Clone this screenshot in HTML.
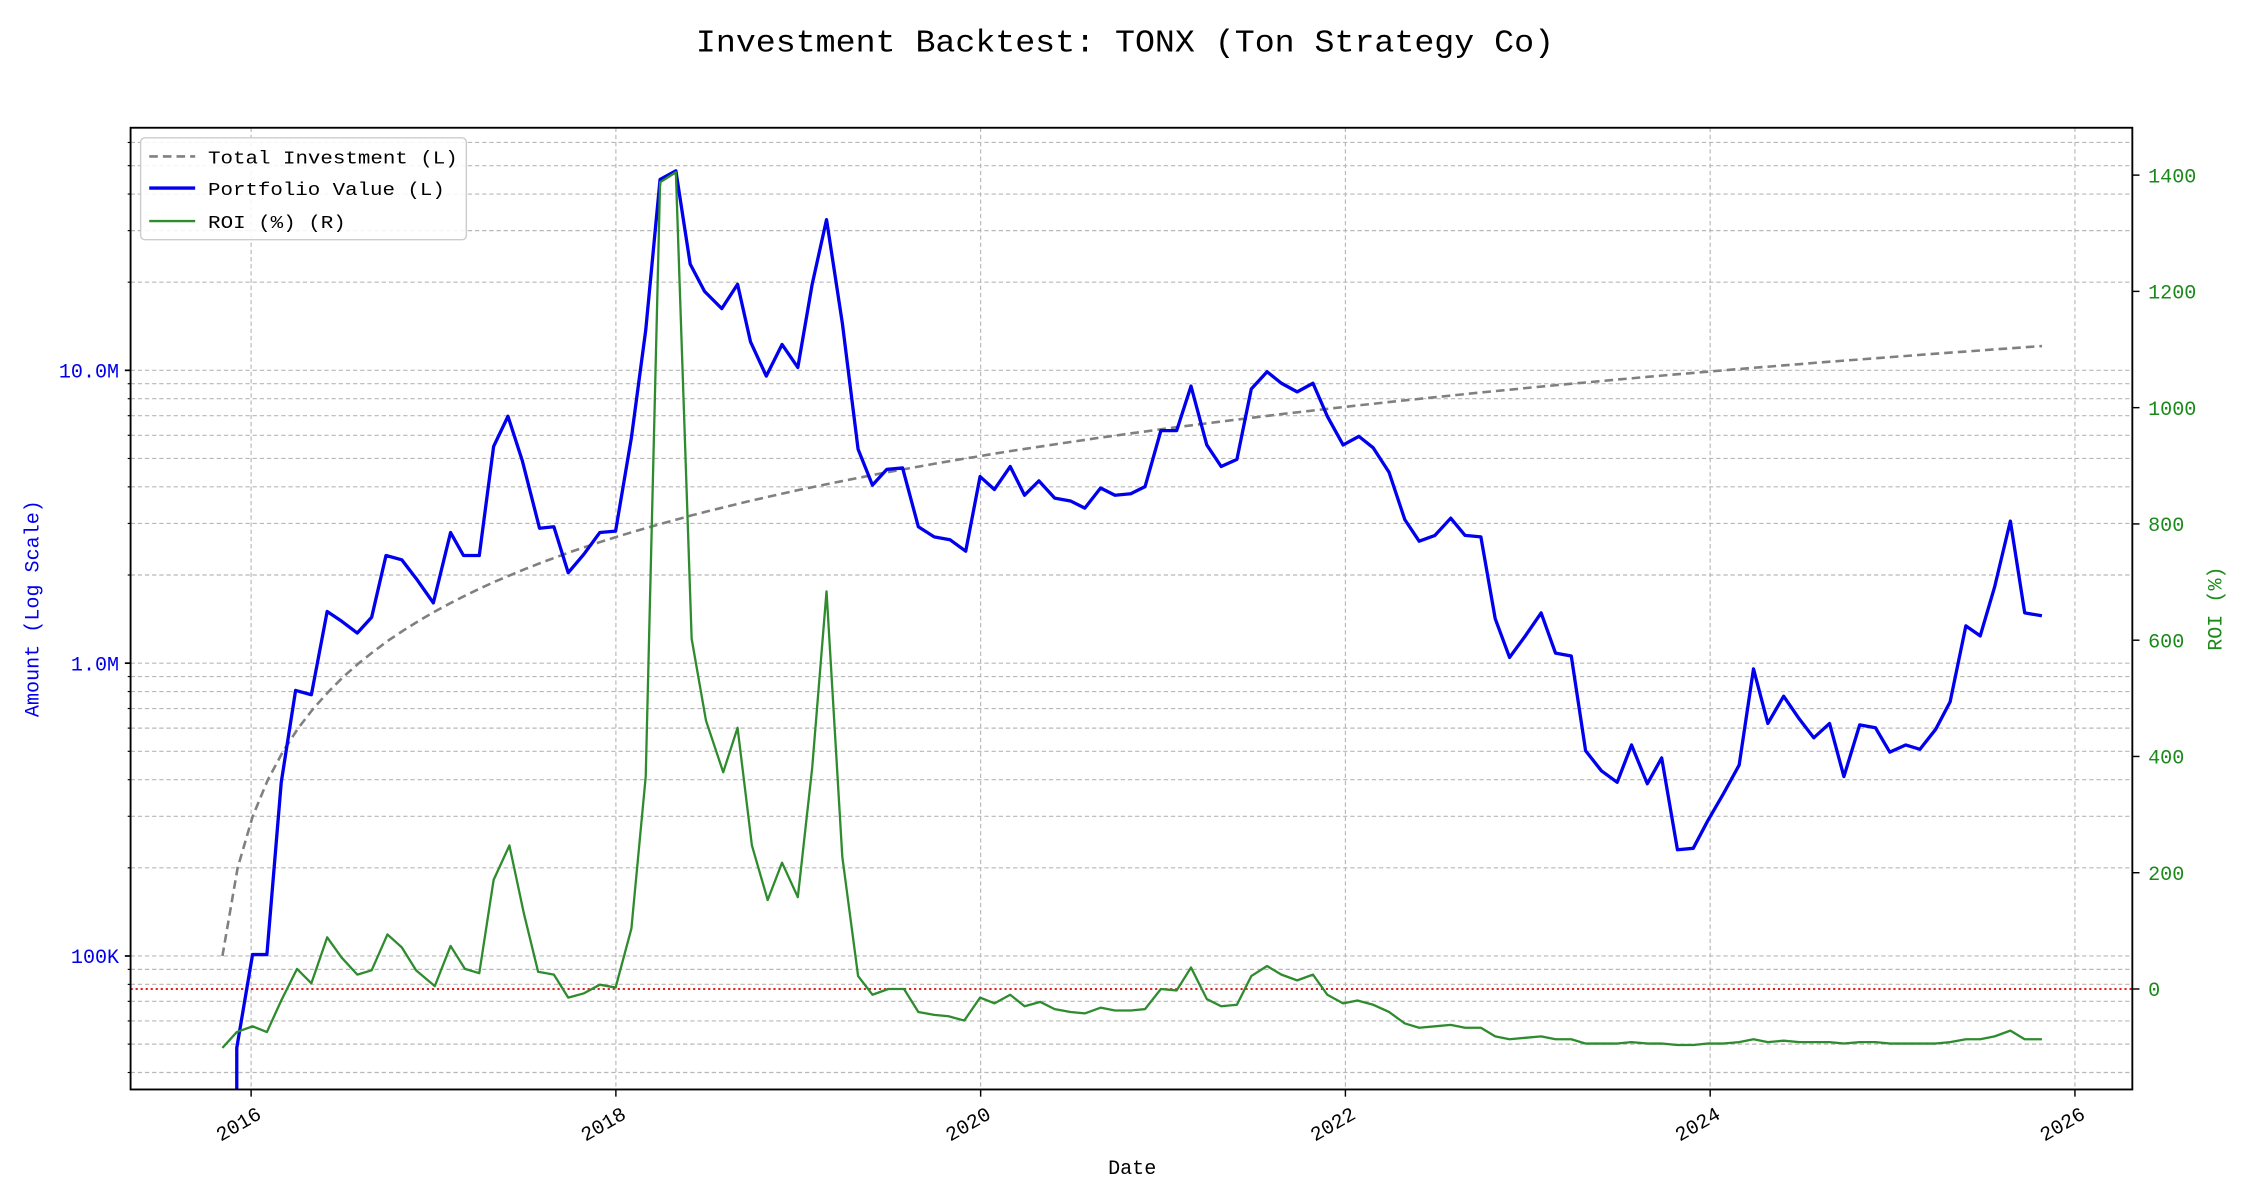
<!DOCTYPE html>
<html><head><meta charset="utf-8"><style>html,body{margin:0;padding:0;background:#fff}svg{display:block}text{font-family:"Liberation Mono","DejaVu Sans Mono",monospace}</style></head>
<body>
<svg id="s" width="2250" height="1200" viewBox="0 0 1568 836" preserveAspectRatio="none" xmlns="http://www.w3.org/2000/svg">
<rect width="1568" height="836" fill="#fff"/>
<g id="grid"></g>
<line x1="91" y1="689" x2="1486" y2="689" stroke="#e00000" stroke-width="1.2" stroke-dasharray="1.5,2"/>
<polyline id="inv" fill="none" stroke="#808080" stroke-width="1.8" stroke-dasharray="6,3.5"/>
<polyline fill="none" stroke="#0000ee" stroke-width="2.3" stroke-linejoin="round" points="165,759 165,730 176,665 186,665 196,545 206,481 217,484 228,426 237,432 249,441 259,430 269,387 280,390 290,403 302,420 314,371 323,387 334,387 344,311 354,290 364,321 376,368 386,367 396,399 407,386 418,371 429,370 440,305 450,230 460,125 471,119 481,184 491,203 503,215 514,198 523,238 534,262 545,240 556,256 566,198 576,153 587,225 598,313 608,338 618,327 629,326 640,367 651,374 662,376 673,384 683,332 693,341 704,325 714,345 724,335 735,347 746,349 756,354 767,340 777,345 788,344 798,339 809,300 820,300 830,269 841,310 851,325 862,320 872,271 883,259 893,267 904,273 915,267 925,290 936,310 947,304 957,312 968,329 979,362 989,377 1000,373 1011,361 1021,373 1032,374 1042,431 1052,458 1063,443 1074,427 1084,455 1095,457 1105,523 1116,537 1127,545 1137,519 1148,546 1158,528 1169,592 1180,591 1190,572 1201,553 1212,533 1222,466 1232,504 1243,485 1254,501 1264,514 1275,504 1285,541 1296,505 1307,507 1317,524 1328,519 1338,522 1349,508 1359,489 1370,436 1380,443 1390,409 1401,363 1411,427 1423,429"/>
<polyline fill="none" stroke="#2e8b2e" stroke-width="1.6" stroke-linejoin="round" points="155,730 165,719 176,715 186,719 196,697 207,675 217,685 228,653 238,667 249,679 259,676 270,651 280,660 290,676 303,687 314,659 324,675 334,678 344,613 355,589 365,636 375,677 386,679 396,695 407,692 418,686 429,688 440,647 450,541 460,127 471,120 482,445 492,502 504,538 514,507 524,589 535,627 545,601 556,625 566,535 576,412 587,597 598,680 608,693 619,689 630,689 640,705 651,707 661,708 672,711 683,695 693,699 704,693 714,701 725,698 735,703 746,705 756,706 767,702 777,704 788,704 798,703 809,689 820,690 830,674 841,696 851,701 862,700 872,680 883,673 893,679 904,683 915,679 925,693 936,699 946,697 957,700 968,705 979,713 989,716 1000,715 1011,714 1021,716 1032,716 1042,722 1052,724 1063,723 1074,722 1084,724 1095,724 1105,727 1116,727 1127,727 1137,726 1148,727 1158,727 1169,728 1180,728 1190,727 1201,727 1212,726 1222,724 1232,726 1243,725 1254,726 1264,726 1275,726 1285,727 1296,726 1307,726 1317,727 1328,727 1338,727 1349,727 1359,726 1370,724 1380,724 1390,722 1401,718 1411,724 1423,724"/>
<rect x="91" y="89" width="1395" height="670" fill="none" stroke="#000" stroke-width="1.3"/>
<g id="ticks"></g>
<text x="784" y="36" font-size="22" text-anchor="middle" textLength="598" lengthAdjust="spacingAndGlyphs">Investment Backtest: TONX (Ton Strategy Co)</text>
<text x="789" y="818" font-size="14" text-anchor="middle">Date</text>
<text transform="translate(27,424) rotate(-90)" font-size="14" fill="#0000ee" text-anchor="middle">Amount (Log Scale)</text>
<text transform="translate(1548,424) rotate(-90)" font-size="14" fill="#1a8a1a" text-anchor="middle">ROI (%)</text>
<g>
<rect x="98" y="96" width="227" height="71" rx="3" fill="#fff" fill-opacity="0.85" stroke="#ccc"/>
<line x1="104" y1="109" x2="136" y2="109" stroke="#808080" stroke-width="1.8" stroke-dasharray="6,3.5"/>
<line x1="104" y1="131" x2="136" y2="131" stroke="#0000ee" stroke-width="2.3"/>
<line x1="104" y1="154" x2="136" y2="154" stroke="#2e8b2e" stroke-width="1.6"/>
<text x="145" y="114" font-size="13" textLength="174" lengthAdjust="spacingAndGlyphs">Total Investment (L)</text>
<text x="145" y="136" font-size="13" textLength="165" lengthAdjust="spacingAndGlyphs">Portfolio Value (L)</text>
<text x="145" y="159" font-size="13" textLength="96" lengthAdjust="spacingAndGlyphs">ROI (%) (R)</text>
</g>
</svg>
<script>
var NS="http://www.w3.org/2000/svg";
function el(p,t,a,txt){var e=document.createElementNS(NS,t);for(var k in a)e.setAttribute(k,a[k]);if(txt)e.textContent=txt;p.appendChild(e);return e;}
var g=document.getElementById('grid'),tk=document.getElementById('ticks');
function ly(v){return 666-204*(Math.log10(v)-5);}
for(var d=4;d<=7;d++){for(var m=1;m<=9;m++){var v=m*Math.pow(10,d);var y=ly(v);if(y<89||y>759)continue;
el(g,'line',{x1:91,x2:1486,y1:y,y2:y,stroke:'#b8b8b8','stroke-width':0.8,'stroke-dasharray':'3,2'});
el(tk,'line',{x1:m==1?87:89,x2:91,y1:y,y2:y,stroke:'#000','stroke-width':m==1?1.2:0.8});}}
[[5,'100K'],[6,'1.0M'],[7,'10.0M']].forEach(function(a){el(tk,'text',{x:83,y:ly(Math.pow(10,a[0]))+5,'font-size':14,fill:'#0000ee','text-anchor':'end'},a[1]);});
for(var yr=2016;yr<=2026;yr+=2){var x=175+(yr-2016)*127.1;
el(g,'line',{x1:x,x2:x,y1:89,y2:759,stroke:'#b8b8b8','stroke-width':0.8,'stroke-dasharray':'3,2'});
el(tk,'line',{x1:x,x2:x,y1:759,y2:764,stroke:'#000','stroke-width':1});
el(tk,'text',{transform:'translate('+(x+3)+',770) rotate(-30)','font-size':14,'text-anchor':'end',y:10},String(yr));}
for(var r=0;r<=1400;r+=200){var y=689-r*0.405;
el(tk,'line',{x1:1486,x2:1491,y1:y,y2:y,stroke:'#000','stroke-width':1});
el(tk,'text',{x:1497,y:y+5,'font-size':14,fill:'#1a8a1a'},String(r));}
var pts=[];for(var n=0;n<=120;n++){pts.push((155+n*10.567).toFixed(1)+','+ly(100000*(n+1)).toFixed(1));}
document.getElementById('inv').setAttribute('points',pts.join(' '));
</script>
</body></html>
